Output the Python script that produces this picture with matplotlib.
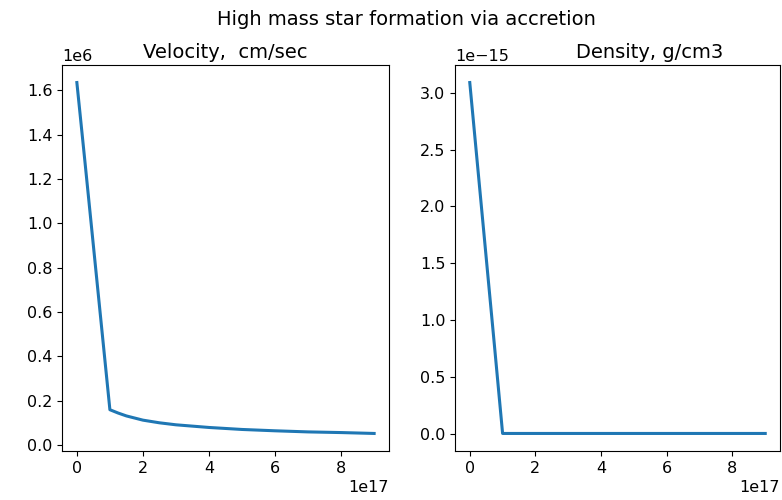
import matplotlib
matplotlib.use("Agg")
import matplotlib.pyplot as plt
import numpy as np

# radius in units of 1e17 cm
radius = [0.0, 0.25, 0.5, 0.75, 1.0, 1.25, 1.5, 2.0, 2.5, 3.0, 4.0, 5.0, 6.0, 7.0, 8.0, 9.0]
# infall velocity, 1e6 cm/sec
velocity = [1.635, 1.27, 0.90, 0.53, 0.160, 0.145, 0.132, 0.113, 0.101, 0.092,
            0.080, 0.071, 0.065, 0.060, 0.057, 0.053]
# gas density, 1e-15 g/cm3
density = [3.09, 2.32, 1.55, 0.78, 0.002, 0.002, 0.002, 0.002, 0.002, 0.002,
           0.002, 0.002, 0.002, 0.002, 0.002, 0.002]

plt.rcParams["font.family"] = ["DejaVu Sans"]
plt.rcParams["xtick.labelsize"] = 11.5
plt.rcParams["ytick.labelsize"] = 11.5

fig = plt.figure(figsize=(7.82, 5.0), dpi=100)
ax1 = fig.add_axes([62 / 782, 49 / 500, 327 / 782, 386 / 500])
ax2 = fig.add_axes([455 / 782, 49 / 500, 325 / 782, 386 / 500])

r = np.array(radius) * 1e17
ax1.plot(r, np.array(velocity) * 1e6, color="#1f77b4", lw=2.2)
ax2.plot(r, np.array(density) * 1e-15, color="#1f77b4", lw=2.2)

ax1.set_title("Velocity,  cm/sec", fontsize=14, pad=5)
ax2.set_title("Density, g/cm3", fontsize=14, pad=5, x=0.6)
fig.suptitle("High mass star formation via accretion", fontsize=14, x=406 / 782, y=0.98)

for ax in (ax1, ax2):
    ax.xaxis.get_offset_text().set_fontsize(11.5)
    ax.yaxis.get_offset_text().set_fontsize(11.5)

fig.savefig("out.png", dpi=100)
